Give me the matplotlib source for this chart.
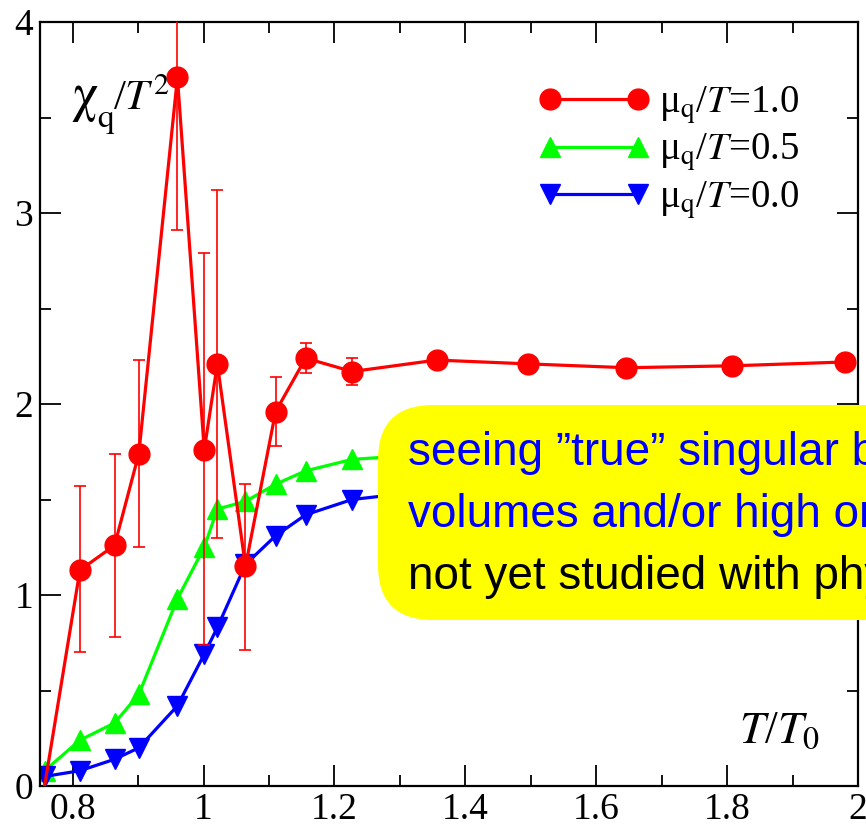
import matplotlib
matplotlib.use("Agg")
import matplotlib.pyplot as plt
from matplotlib.patches import FancyBboxPatch
from matplotlib.lines import Line2D
from matplotlib.ticker import MultipleLocator, FuncFormatter

plt.rcParams['font.family'] = ['Liberation Serif', 'DejaVu Serif']
plt.rcParams['mathtext.fontset'] = 'stix'

# ---- data ----
red_x = [0.757, 0.811, 0.864, 0.901, 0.960, 1.001, 1.021, 1.064, 1.110, 1.156,
         1.227, 1.356, 1.496, 1.646, 1.808, 1.980]
red_y = [0.00, 1.13, 1.26, 1.74, 3.71, 1.76, 2.21, 1.15, 1.96, 2.24,
         2.17, 2.23, 2.21, 2.19, 2.20, 2.22]
red_lo = [0.00, 0.70, 0.78, 1.25, 2.91, 0.74, 1.30, 0.71, 1.78, 2.16,
          2.10, 2.23, 2.21, 2.19, 2.20, 2.22]
red_hi = [0.00, 1.57, 1.74, 2.23, 4.51, 2.79, 3.12, 1.58, 2.14, 2.32,
          2.24, 2.23, 2.21, 2.19, 2.20, 2.22]

green_x = red_x
green_y = [0.08, 0.24, 0.33, 0.48, 0.98, 1.25, 1.45, 1.49, 1.58, 1.65,
           1.71, 1.74, 1.76, 1.77, 1.78, 1.79]

blue_x = red_x
blue_y = [0.05, 0.08, 0.14, 0.20, 0.42, 0.69, 0.83, 1.16, 1.31, 1.42,
          1.50, 1.55, 1.58, 1.60, 1.61, 1.62]

labels = ['μ$_{\\rm q}$/$T$=1.0', 'μ$_{\\rm q}$/$T$=0.5', 'μ$_{\\rm q}$/$T$=0.0']
box_lines = ['seeing ”true” singular behaviour requires large',
             'volumes and/or high orders in μ/T;',
             'not yet studied with physical quark masses']

# ---- figure ----
W, H = 866, 824
fig = plt.figure(figsize=(W / 100, H / 100), dpi=100)
ax = fig.add_axes([40 / W, 38 / H, 818 / W, 764 / H])

lw = 2.3
RED, GREEN, BLUE = '#ff0000', '#00ff00', '#0000ff'
# first red segment (no marker at first point)
ax.plot(red_x[:2], red_y[:2], color=RED, lw=lw, zorder=3)
yerr = [[y - l for y, l in zip(red_y[1:], red_lo[1:])],
        [h - y for y, h in zip(red_y[1:], red_hi[1:])]]
ax.errorbar(red_x[1:], red_y[1:], yerr=yerr, color=RED, lw=lw,
            marker='o', ms=15, elinewidth=1.2, capsize=4.5, capthick=1.2,
            zorder=3)
ax.plot(green_x, green_y, color=GREEN, lw=lw, marker='^', ms=14, zorder=2)
ax.plot(blue_x, blue_y, color=BLUE, lw=lw, marker='v', ms=14, zorder=2)

ax.set_xlim(0.75, 2.0)
ax.set_ylim(0, 4)
ax.xaxis.set_major_locator(MultipleLocator(0.2))
ax.xaxis.set_minor_locator(MultipleLocator(0.1))
ax.yaxis.set_major_locator(MultipleLocator(1))
ax.yaxis.set_minor_locator(MultipleLocator(0.5))
ax.xaxis.set_major_formatter(FuncFormatter(lambda v, p: '%g' % round(v, 3)))
ax.yaxis.set_major_formatter(FuncFormatter(lambda v, p: '%g' % round(v, 3)))
ax.tick_params(which='both', direction='in', top=True, right=True, width=1.3,
               labelsize=27, pad=5)
ax.tick_params(which='major', length=15)
ax.tick_params(which='minor', length=8)
for s in ax.spines.values():
    s.set_linewidth(1.6)

# y label chi_q / T^2 (pieces placed in figure pixels)
def fx(px):
    return px / W


def fy(py):
    return 1 - py / H


fig.text(fx(71), fy(110), 'χ', family='STIXGeneral', fontsize=38,
         va='baseline', ha='left')
fig.text(fx(97), fy(127), 'q', family='STIXGeneral', fontsize=24,
         va='baseline', ha='left')
fig.text(fx(113), fy(110), '/$T^{2}$', fontsize=31, va='baseline', ha='left')

# x label T/T_0
ax.text(0.855, 0.056, '$T$/$T_{0}$', transform=ax.transAxes,
        fontsize=33, va='baseline', ha='left')

handles = [Line2D([], [], color=RED, lw=lw, marker='o', ms=15),
           Line2D([], [], color=GREEN, lw=lw, marker='^', ms=14),
           Line2D([], [], color=BLUE, lw=lw, marker='v', ms=14)]
leg = ax.legend(handles, labels, loc='upper left', bbox_to_anchor=(0.609, 0.918),
                frameon=False, numpoints=2, handlelength=2.87, handletextpad=0.25,
                labelspacing=0.15, fontsize=28, borderaxespad=0, borderpad=0)

# yellow note box (figure-level, clipped by the figure edge)
tr = fig.dpi_scale_trans
x0, y0 = 378 / 100, (H - 620) / 100
box = FancyBboxPatch((x0, y0), 8.0, 2.15,
                     boxstyle='round,pad=0,rounding_size=0.55',
                     transform=tr, facecolor='#ffff00', edgecolor='none',
                     zorder=10)
fig.patches.append(box)
for i, (line, col) in enumerate(zip(box_lines, [BLUE, BLUE, 'black'])):
    fig.text(408 / W, (H - 465 - 62 * i) / H, line, color=col,
             family=['Liberation Sans', 'DejaVu Sans'], fontsize=33,
             va='baseline', ha='left', zorder=11)

fig.savefig('out.png', dpi=100)
